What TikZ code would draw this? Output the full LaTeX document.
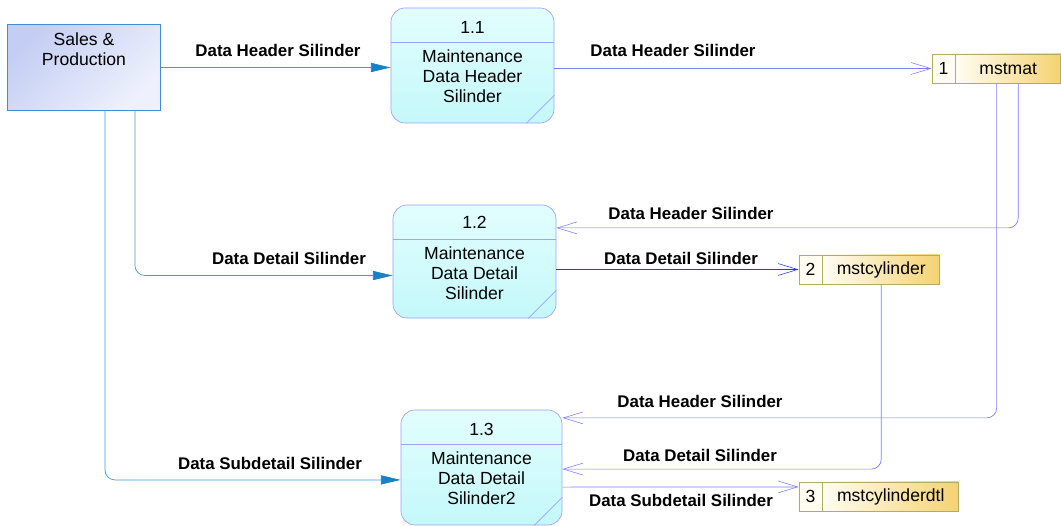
\documentclass[tikz,border=0pt]{standalone}
\usepackage{fontspec}
\setmainfont{Liberation Sans}
\usepackage{tikz}
\usetikzlibrary{arrows.meta}
\usetikzlibrary{positioning, shapes}

\definecolor{feedblue}{HTML}{3C9AD8}
\definecolor{tipblue}{HTML}{1A80C4}
\definecolor{flowblue}{HTML}{7C7CFF}
\definecolor{darkflow}{HTML}{3030FF}
\definecolor{procedge}{HTML}{A0A0FF}
\definecolor{proctop}{HTML}{E2FEFE}
\definecolor{procbot}{HTML}{C4F8FA}
\definecolor{extedge}{HTML}{3D8FD6}
\definecolor{extdark}{HTML}{C4CEF4}
\definecolor{extlight}{HTML}{EEF1FC}
\definecolor{storeedge}{HTML}{B3AB60}
\definecolor{storegold}{HTML}{F5D372}
\definecolor{storecream}{HTML}{FFFCF2}

\begin{document}
\begin{tikzpicture}[x=0.025cm,y=-0.025cm,line width=0.5pt,
  ext/.style={draw=extedge,line width=0.7pt,top color=extdark,bottom color=extlight,
    shading angle=45,minimum width=3.8cm,minimum height=2.125cm},
  proc/.style={draw=procedge,rounded corners=10pt,top color=proctop,bottom color=procbot},
  ptext/.style={font=\fontsize{12.5}{14.2}\selectfont,align=center,inner sep=0pt},
  lbl/.style={font=\bfseries\fontsize{12}{14}\selectfont,inner sep=0pt},
  storeid/.style={draw=storeedge,fill=storecream,minimum width=0.575cm,minimum height=0.725cm,
    inner sep=0pt,font=\fontsize{12.5}{14}\selectfont},
  storebox/.style={draw=storeedge,left color=storecream,right color=storegold,
    minimum height=0.725cm,inner sep=0pt,font=\fontsize{12.5}{14}\selectfont},
  feed/.style={draw=feedblue,rounded corners=7pt,-{Triangle[length=14pt,width=6.5pt,color=tipblue]}},
  flow/.style={draw=flowblue,rounded corners=7pt,-{Straight Barb[length=14pt,width=8.5pt,line width=0.4pt]}}]
\useasboundingbox (0,0) rectangle (1061,526);

% external entity
\node[ext] (ext) at (84,67.5) {};
\node[ptext] (exttxt) at ([yshift=-0.625cm]ext.north) {Sales \&\\Production};

% processes
\node[proc,minimum width=4.075cm,minimum height=2.875cm] (p11) at (472.5,65.5) {};
\node[proc,minimum width=4.075cm,minimum height=2.825cm] (p12) at (474.5,261.5) {};
\node[proc,minimum width=4.025cm,minimum height=2.875cm] (p13) at (481.5,467.5) {};
\foreach \p in {p11,p12,p13} {
  \draw[procedge] ([yshift=-0.875cm]\p.north west) -- ([yshift=-0.875cm]\p.north east);
  \draw[procedge] ([yshift=0.7cm]\p.south east) -- ([xshift=-0.7cm]\p.south east);
}
\node[ptext] (p11id) at ([yshift=-0.5cm]p11.north) {1.1};
\node[ptext] (p11txt) at ([yshift=-1.72cm]p11.north) {Maintenance\\Data Header\\Silinder};
\node[ptext] (p12id) at ([yshift=-0.45cm]p12.north) {1.2};
\node[ptext] (p12txt) at ([yshift=-1.72cm]p12.north) {Maintenance\\Data Detail\\Silinder};
\node[ptext] (p13id) at ([yshift=-0.5cm]p13.north) {1.3};
\node[ptext] (p13txt) at ([yshift=-1.72cm]p13.north) {Maintenance\\Data Detail\\Silinder2};

% data stores
\node[storeid] (n1) at (943.5,68.5) {1};
\node[storebox,minimum width=2.625cm,right=0pt of n1] (d1) {mstmat};
\node[storeid] (n2) at (810.5,269.5) {2};
\node[storebox,minimum width=2.925cm,right=0pt of n2] (d2) {mstcylinder};
\node[storeid] (n3) at (810.5,496.5) {3};
\node[storebox,minimum width=3.4cm,right=0pt of n3] (d3) {mstcylinderdtl};

% flows
\draw[feed] (ext.east) -- (ext.east -| p11.west);
\draw[feed] ([xshift=1.275cm]ext.south) |- ([yshift=-0.35cm]p12.west);
\draw[feed] ([xshift=0.525cm]ext.south) |- ([yshift=-0.31cm]p13.west);
\draw[flow] (p11.east |- n1.west) -- (n1.west);
\draw[flow] ([xshift=0.25cm]d1.south) |- ([yshift=0.84cm]p12.east);
\draw[flow] ([xshift=-0.29cm]d1.south) |- ([yshift=1.24cm]p13.east);
\draw[flow,draw=darkflow] (p12.east |- n2.west) -- (n2.west);
\draw[flow] (d2.south) |- ([yshift=-0.04cm]p13.east);
\draw[flow] ([yshift=-0.49cm]p13.east) -- ([yshift=0.24cm]n3.west);

% flow labels
\node[lbl] (l1) at (278,50) {Data Header Silinder};
\node[lbl] (l2) at (673,50) {Data Header Silinder};
\node[lbl] (l3) at (691,213) {Data Header Silinder};
\node[lbl] (l4) at (289,258) {Data Detail Silinder};
\node[lbl] (l5) at (681,258) {Data Detail Silinder};
\node[lbl] (l6) at (700,401) {Data Header Silinder};
\node[lbl] (l7) at (270,463) {Data Subdetail Silinder};
\node[lbl] (l8) at (700,455) {Data Detail Silinder};
\node[lbl] (l9) at (681,500) {Data Subdetail Silinder};
\end{tikzpicture}
\end{document}
